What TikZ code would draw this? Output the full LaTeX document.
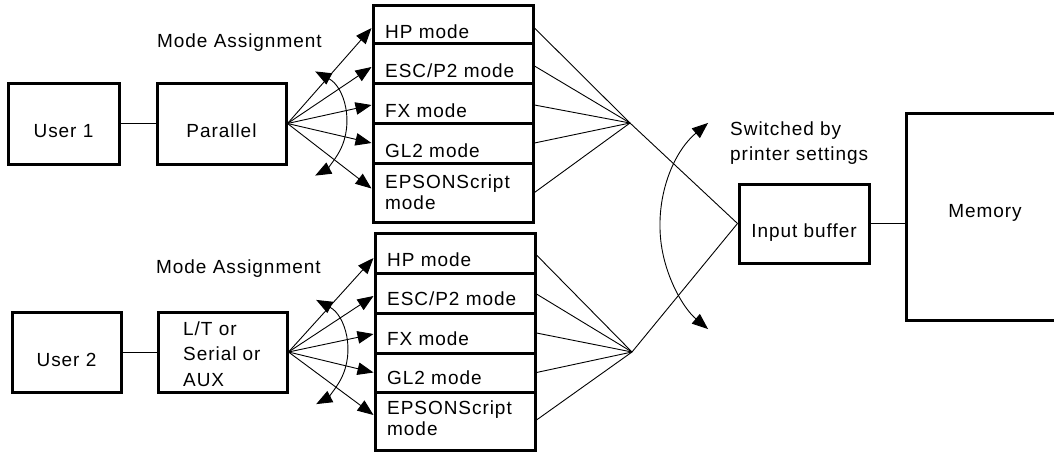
\documentclass[tikz,border=0pt]{standalone}
\usepackage{fontspec}
\setmainfont{Liberation Sans}[LetterSpace=5]
\usetikzlibrary{arrows.meta,calc}
\newcommand\dfont{\fontsize{19}{22}\selectfont}
\begin{document}
\begin{tikzpicture}[x=1pt,y=-1pt,
  box/.style={draw, line width=3pt, inner sep=0pt, font=\dfont},
  lowtext/.style={text height=27pt, text depth=0pt},
  row/.style={draw, line width=3pt, inner sep=0pt},
  lbl/.style={font=\dfont, inner sep=0pt, anchor=base west},
  conn/.style={line width=0.9pt},
  tri/.tip={Triangle[length=16pt,width=12.5pt]},
  fan/.style={conn, -tri},
  dbl/.style={conn, tri-tri}]
\useasboundingbox (0,0) rectangle (1054,453);

% left boxes
\node[box, lowtext, minimum width=111pt, minimum height=81pt] (u1) at (63.5,123.5) {User 1};
\node[box, lowtext, minimum width=129pt, minimum height=81pt] (par) at (221.5,123.5) {Parallel};
\node[box, minimum width=109pt, minimum height=80pt, text height=29pt, text depth=0pt] (u2) at (66.5,352) {User 2};
\node[box, minimum width=129pt, minimum height=80pt] (lt) at (222.5,352) {};
\node[lbl] (tlt) at (183,335) {\renewcommand\arraystretch{1.18}\begin{tabular}[t]{@{}l@{}}L/T or\\Serial or\\AUX\end{tabular}};

\draw[conn] (u1) -- (par);
\draw[conn] (u2) -- (lt);

% mode assignment labels
\node[lbl] (ma1) at (157,47) {Mode Assignment};
\node[lbl] (ma2) at (156,273) {Mode Assignment};

% upper mode stack
\node[row, minimum width=160pt, minimum height=38pt] (hp1) at (453,24) {};
\node[row, minimum width=160pt, minimum height=40pt] (esc1) at (453,63) {};
\node[row, minimum width=160pt, minimum height=40pt] (fx1) at (453,103) {};
\node[row, minimum width=160pt, minimum height=40pt] (gl1) at (453,143) {};
\node[row, minimum width=160pt, minimum height=59pt] (ep1) at (453,192.5) {};
\node[lbl] (thp1) at (385,38) {HP mode};
\node[lbl] (tesc1) at (385,77) {ESC/P2 mode};
\node[lbl] (tfx1) at (385,117) {FX mode};
\node[lbl] (tgl1) at (385,157) {GL2 mode};
\node[lbl] (tep1) at (385,188) {\renewcommand\arraystretch{0.96}\begin{tabular}[t]{@{}l@{}}EPSONScript\\mode\end{tabular}};

% lower mode stack
\node[row, minimum width=160pt, minimum height=40pt] (hp2) at (455,253) {};
\node[row, minimum width=160pt, minimum height=40pt] (esc2) at (455,293) {};
\node[row, minimum width=160pt, minimum height=40pt] (fx2) at (455,333) {};
\node[row, minimum width=160pt, minimum height=39pt] (gl2) at (455,372.5) {};
\node[row, minimum width=160pt, minimum height=58pt] (ep2) at (455,421) {};
\node[lbl] (thp2) at (387,266) {HP mode};
\node[lbl] (tesc2) at (387,305) {ESC/P2 mode};
\node[lbl] (tfx2) at (387,345) {FX mode};
\node[lbl] (tgl2) at (387,384) {GL2 mode};
\node[lbl] (tep2) at (387,414) {\renewcommand\arraystretch{0.96}\begin{tabular}[t]{@{}l@{}}EPSONScript\\mode\end{tabular}};

% fan arrows (upper)
\draw[fan] (par.east) -- ($(hp1.west)+(0,4)$);
\draw[fan] (par.east) -- ($(esc1.west)+(0,4)$);
\draw[fan] (par.east) -- ($(fx1.west)+(0,2)$);
\draw[fan] (par.east) -- (gl1.west);
\draw[fan] (par.east) -- ($(ep1.west)+(0,-4)$);
\draw[dbl] ($(par.east)+(-62:59)$) arc[start angle=-62, end angle=62, radius=59];

% fan arrows (lower)
\draw[fan] (lt.east) -- ($(hp2.west)+(0,5)$);
\draw[fan] (lt.east) -- ($(esc2.west)+(0,3)$);
\draw[fan] (lt.east) -- ($(fx2.west)+(0,1)$);
\draw[fan] (lt.east) -- (gl2.west);
\draw[fan] (lt.east) -- ($(ep2.west)+(0,-6)$);
\draw[dbl] ($(lt.east)+(-62:59)$) arc[start angle=-62, end angle=62, radius=59];

% convergence points
\coordinate (c1) at (630,123);
\coordinate (c2) at (632,352);
\draw[conn] ($(hp1.east)+(0,4)$) -- (c1);
\draw[conn] ($(esc1.east)+(0,3)$) -- (c1);
\draw[conn] ($(fx1.east)+(0,2)$) -- (c1);
\draw[conn] (gl1.east) -- (c1);
\draw[conn] (ep1.east) -- (c1);
\draw[conn] ($(hp2.east)+(0,2)$) -- (c2);
\draw[conn] ($(esc2.east)+(0,1)$) -- (c2);
\draw[conn] (fx2.east) -- (c2);
\draw[conn] (gl2.east) -- (c2);
\draw[conn] ($(ep2.east)+(0,-1)$) -- (c2);

% input buffer and memory
\node[box, lowtext, minimum width=130pt, minimum height=79pt] (buf) at (804,223.5) {Input buffer};
\node[box, minimum width=174pt, minimum height=207pt] (mem) at (993,216.5) {};
\node[font=\dfont, inner sep=0pt, anchor=base] (tmem) at (985,217) {Memory};
\draw[conn] (c1) -- (buf.west);
\draw[conn] (c2) -- (buf.west);
\draw[conn] (buf.east) -- (buf.east -| mem.west);

% switch arc and label
\coordinate (sw) at (794.5,226);
\draw[dbl] ($(sw)+(230:134.5)$) arc[start angle=230, end angle=130, radius=134.5];
\node[lbl] (tsw) at (730,135) {\renewcommand\arraystretch{1.18}\begin{tabular}[t]{@{}l@{}}Switched by\\printer settings\end{tabular}};
\end{tikzpicture}
\end{document}
